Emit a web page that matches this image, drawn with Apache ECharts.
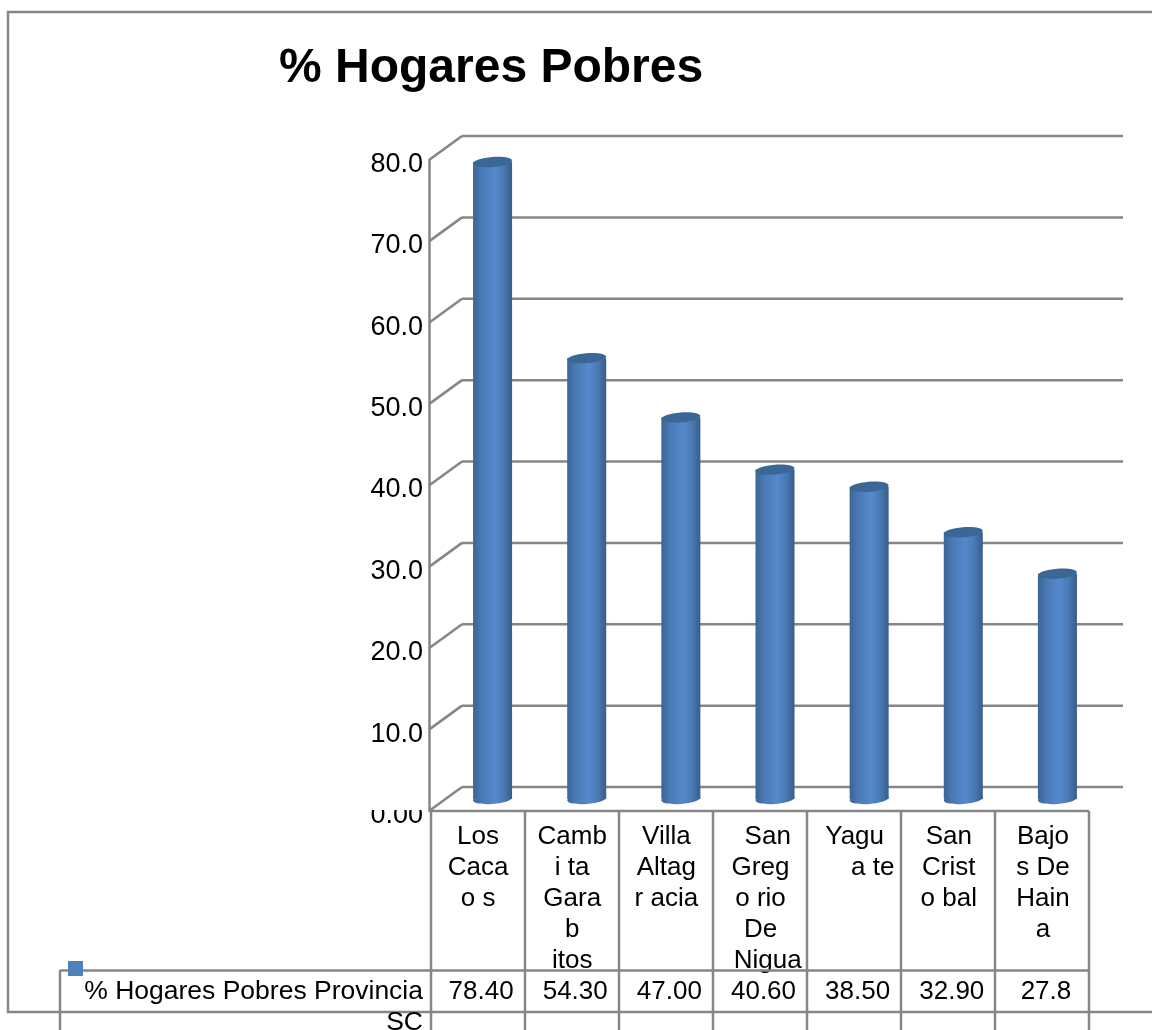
<!DOCTYPE html>
<html>
<head>
<meta charset="utf-8">
<style>
  html, body { margin: 0; padding: 0; background: #fff; }
  #chart { width: 1152px; height: 1030px; }
</style>
<script src="https://cdn.jsdelivr.net/npm/echarts@6/dist/echarts.min.js"></script>
</head>
<body>
<div id="chart"></div>
<script>
var chartTitle = '% Hogares Pobres';
var categories = ['Los\nCaca\no s', 'Camb\ni ta\nGara\nb\nitos', 'Villa\nAltag\nr acia', '  San\nGreg\no rio\nDe\n  Nigua', 'Yagu\n     a te', 'San\nCrist\no bal', 'Bajo\ns De\nHain\na'];
var values = [78.4, 54.3, 47.0, 40.6, 38.5, 32.9, 27.8];
var valueLabels = ['78.40', '54.30', '47.00', '40.60', '38.50', '32.90', '27.8'];
var yTicks = [0, 10, 20, 30, 40, 50, 60, 70, 80];
var yTickLabels = ['0.00', '10.0', '20.0', '30.0', '40.0', '50.0', '60.0', '70.0', '80.0'];
var rowName = ['% Hogares Pobres Provincia', 'SC'];

var FONT = '"Liberation Sans", Arial, sans-serif';
var LINE = '#868686';
// depth of the fake 3d box
var DX = 33, DY = 24;

var chart = echarts.init(document.getElementById('chart'));

function ln(x1, y1, x2, y2) {
  return { type: 'line', shape: { x1: x1, y1: y1, x2: x2, y2: y2 }, style: { stroke: LINE, lineWidth: 2.5 } };
}

// back wall lines + diagonal to the front axis
function renderWall(params, api) {
  var cs = params.coordSys;
  var y = api.coord([0, api.value(0)])[1];
  return {
    type: 'group',
    children: [
      ln(cs.x, y, cs.x + DX, y - DY),
      ln(cs.x + DX, y - DY, cs.x + cs.width + DX + 2, y - DY)
    ]
  };
}

function renderBar(params, api) {
  var base = api.coord([api.value(0), 0]);
  var top = api.coord([api.value(0), api.value(1)]);
  var cx = base[0] + DX / 2;
  var y0 = base[1] - DY / 2;
  var y1 = top[1] - DY / 2 + 1;
  var rx = 19.5, ry = 5;
  var tilt = 0.08;
  var body = {
    type: 'linear', x: 0, y: 0, x2: 1, y2: 0,
    colorStops: [
      { offset: 0, color: '#3A6595' },
      { offset: 0.22, color: '#4A7AB5' },
      { offset: 0.55, color: '#5589CC' },
      { offset: 0.78, color: '#4A7AB5' },
      { offset: 1, color: '#375D8B' }
    ]
  };
  return {
    type: 'group',
    children: [
      { type: 'ellipse', originX: cx, originY: y0, rotation: tilt, shape: { cx: cx, cy: y0, rx: rx, ry: ry }, style: { fill: body } },
      { type: 'rect', shape: { x: cx - rx, y: y1, width: rx * 2, height: y0 - y1 }, style: { fill: body } },
      { type: 'ellipse', originX: cx, originY: y1, rotation: tilt, shape: { cx: cx, cy: y1, rx: rx, ry: ry }, style: { fill: '#3B6797' } }
    ]
  };
}

// table cells under the chart
function renderCell(params, api) {
  var x = api.coord([api.value(0), 0])[0] + 5;
  return {
    type: 'text',
    style: { x: x, y: 992, text: valueLabels[api.value(0)], fill: '#000', font: '26px ' + FONT, textAlign: 'center', textVerticalAlign: 'middle' }
  };
}

var tableLines = [
  ln(431, 811, 1089, 811),
  ln(60, 970.5, 1089, 970.5),
  ln(60, 970, 60, 1030)
];
[431, 525, 619, 713, 807, 901, 995, 1089].forEach(function (x) {
  tableLines.push(ln(x, 811, x, 1030));
});

var option = {
  backgroundColor: '#fff',
  animation: false,
  title: {
    text: chartTitle,
    left: 279,
    top: 45,
    padding: 0,
    textStyle: { fontFamily: FONT, fontSize: 48, fontWeight: 'bold', color: '#000' }
  },
  grid: { left: 429, right: 64, top: 160, bottom: 219 },
  xAxis: {
    type: 'category',
    data: categories,
    axisLine: { show: false },
    axisTick: { show: false },
    axisLabel: {
      interval: 0,
      margin: 10,
      padding: [0, 0, 0, 4],
      fontFamily: FONT,
      fontSize: 26,
      lineHeight: 31,
      color: '#000',
      verticalAlign: 'top'
    }
  },
  yAxis: {
    type: 'value',
    min: 0,
    max: 80,
    interval: 10,
    splitLine: { show: false },
    axisTick: { show: false },
    axisLine: { show: true, lineStyle: { color: LINE, width: 2.5 } },
    axisLabel: {
      margin: 6,
      padding: [9, 0, 0, 0],
      fontFamily: FONT,
      fontSize: 27,
      color: '#000',
      formatter: function (v) {
        var s = yTickLabels[yTicks.indexOf(v)];
        return v === 0 ? '{zero|' + s + '}' : s;
      },
      rich: { zero: { fontFamily: FONT, fontSize: 27, color: '#000' } }
    }
  },
  series: [
    {
      type: 'custom',
      name: 'wall',
      z: 1,
      silent: true,
      data: yTicks.map(function (t) { return [t]; }),
      encode: { y: 0 },
      renderItem: renderWall
    },
    {
      type: 'custom',
      name: rowName[0],
      z: 3,
      data: values.map(function (v, i) { return [i, v]; }),
      encode: { x: 0, y: 1 },
      renderItem: renderBar
    },
    {
      type: 'custom',
      name: 'cells',
      z: 4,
      silent: true,
      data: values.map(function (v, i) { return [i, v]; }),
      encode: { x: 0, y: 1 },
      renderItem: renderCell
    }
  ],
  graphic: [
    // frame
    { type: 'polyline', z: 5, shape: { points: [[1152, 12], [8, 12], [8, 1012], [1152, 1012]] }, style: { stroke: LINE, lineWidth: 2.5, fill: null } },
    // the top of the 0.00 label is cut in the original
    { type: 'rect', z: 50, shape: { x: 340, y: 795, width: 86, height: 15 }, style: { fill: '#fff' } },
    { type: 'group', z: 60, children: tableLines.map(function (l) { l.z = 60; return l; }) },
    { type: 'rect', z: 70, shape: { x: 68, y: 961, width: 15, height: 15 }, style: { fill: '#4F81BD' } },
    { type: 'text', z: 70, style: { x: 423, y: 992, text: rowName[0], fill: '#000', font: '26.5px ' + FONT, textAlign: 'right', textVerticalAlign: 'middle' } },
    { type: 'text', z: 70, style: { x: 423, y: 1023, text: rowName[1], fill: '#000', font: '26.5px ' + FONT, textAlign: 'right', textVerticalAlign: 'middle' } }
  ]
};
chart.setOption(option);
</script>
</body>
</html>
